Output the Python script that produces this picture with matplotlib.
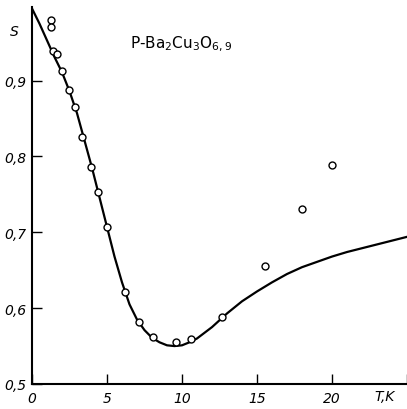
import matplotlib
matplotlib.use("Agg")
import matplotlib.pyplot as plt

# measured points (T, S)
pts_T = [1.26, 1.26, 1.40, 1.66, 1.99, 2.46, 2.86, 3.32, 3.92, 4.39, 4.98,
         6.18, 7.11, 8.04, 9.57, 10.63, 12.69, 15.55, 18.01, 20.0]
pts_S = [0.980, 0.970, 0.939, 0.935, 0.912, 0.888, 0.865, 0.826, 0.786, 0.753, 0.707,
         0.621, 0.582, 0.562, 0.555, 0.559, 0.588, 0.656, 0.731, 0.789]

# calculated curve
curve_T = [0, 0.5, 1.0, 1.5, 2.0, 2.5, 3.0, 3.5, 4.0, 4.5, 5.0, 5.5, 6.0, 6.5, 7.0,
           7.5, 8.0, 8.5, 9.0, 9.5, 10.0, 10.5, 11.0, 12.0, 13.0, 14.0, 15.0, 16.0,
           17.0, 18.0, 19.0, 20.0, 21.0, 22.0, 23.0, 24.0, 25.0]
curve_S = [0.995, 0.975, 0.953, 0.931, 0.911, 0.886, 0.857, 0.821, 0.785, 0.746, 0.707,
           0.668, 0.634, 0.605, 0.585, 0.571, 0.561, 0.555, 0.551, 0.550, 0.551,
           0.555, 0.560, 0.575, 0.593, 0.609, 0.622, 0.634, 0.645, 0.654, 0.661,
           0.668, 0.674, 0.679, 0.684, 0.689, 0.694]

xticks = [0, 5, 10, 15, 20]
xticklabels = ["0", "5", "10", "15", "20"]
yticks = [0.5, 0.6, 0.7, 0.8, 0.9]
yticklabels = ["0,5", "0,6", "0,7", "0,8", "0,9"]

fig = plt.figure(figsize=(4.07, 4.10), dpi=100)
ax = fig.add_axes([32/407, 25/410, 375/407, 377/410])
ax.plot(curve_T, curve_S, color="black", lw=1.6, zorder=2)
ax.plot(pts_T, pts_S, "o", mfc="white", mec="black", ms=5, mew=1.0, zorder=3)

ax.set_xlim(0, 25)
ax.set_ylim(0.5, 0.997)
for s in ["top", "right"]:
    ax.spines[s].set_visible(False)
for s in ["left", "bottom"]:
    ax.spines[s].set_linewidth(1.5)

ax.set_xticks(xticks + [25])
ax.set_xticklabels(xticklabels + [""], fontsize=10, style="italic")
ax.set_yticks(yticks)
ax.set_yticklabels(yticklabels, fontsize=10, style="italic")
ax.tick_params(axis="x", direction="in", length=7, width=1.0, pad=5)
ax.tick_params(axis="y", direction="in", length=7, width=1.0, pad=4)

ax.text(23.5, 0.5 - 0.006, "T,K", transform=ax.transData, fontsize=10,
        style="italic", ha="center", va="top")
ax.text(-0.9, 0.965, "S", fontsize=10, style="italic", ha="right", va="center")
ax.text(6.5, 0.949, r"P-Ba$_2$Cu$_3$O$_{6,9}$", fontsize=11, ha="left", va="center")

fig.savefig("out.png", dpi=100)
